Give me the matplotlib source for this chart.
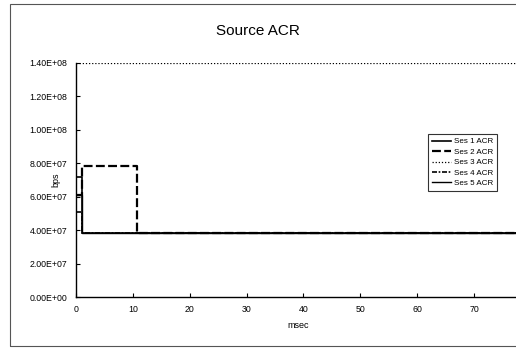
import numpy as np
import matplotlib.pyplot as plt
from matplotlib.patches import Rectangle
from matplotlib.ticker import FuncFormatter

# Data (msec, bps)
ses1_t = [0, 0.5, 1.1, 78]
ses1 = [7.2e7, 7.2e7, 3.85e7, 3.85e7]
ses2_t = [0, 1.1, 10.8, 78]
ses2 = [6.1e7, 7.85e7, 3.85e7, 3.85e7]
ses3_t = [0, 78]
ses3 = [1.4e8, 1.4e8]
ses4_t = [0, 0.5, 1.1, 78]
ses4 = [5.1e7, 5.1e7, 3.85e7, 3.85e7]
ses5_t = [0, 1.1, 78]
ses5 = [6.1e7, 3.85e7, 3.85e7]

xticks = [0, 10, 20, 30, 40, 50, 60, 70]
yticks = np.arange(0, 1.41e8, 2e7)

plt.rcParams['font.family'] = ['Liberation Sans', 'DejaVu Sans']

fig = plt.figure(figsize=(5.16, 3.5), dpi=100)
ax = fig.add_axes([0.147, 0.151, 0.86, 0.669])

ax.plot(ses1_t, ses1, color="black", lw=1.2, drawstyle="steps-post", label="Ses 1 ACR")
ax.plot(ses2_t, ses2, color="black", lw=1.6, ls=(0, (4, 1.5)), drawstyle="steps-post", label="Ses 2 ACR")
ax.plot(ses3_t, ses3, color="black", lw=0.9, ls=(0, (1, 1.5)), drawstyle="steps-post", label="Ses 3 ACR")
ax.plot(ses4_t, ses4, color="black", lw=1.2, ls=(0, (3, 1, 1, 1)), drawstyle="steps-post", label="Ses 4 ACR")
ax.plot(ses5_t, ses5, color="black", lw=1.0, drawstyle="steps-post", label="Ses 5 ACR")

ax.set_xlim(0, 78)
ax.set_ylim(0, 1.4e8)
ax.set_xticks(xticks)
ax.set_yticks(yticks)
ax.yaxis.set_major_formatter(FuncFormatter(lambda v, p: "%.2E" % v))
ax.tick_params(direction="in", length=3, width=0.8, labelsize=6.3, pad=6)
for s in ["top", "right"]:
    ax.spines[s].set_visible(False)
for s in ["left", "bottom"]:
    ax.spines[s].set_linewidth(1.0)

ax.set_xlabel("msec", fontsize=6.5, labelpad=5)
ax.set_ylabel("bps", fontsize=6.5)
ax.yaxis.set_label_coords(-0.035, 0.5)
fig.text(0.5, 0.912, "Source ACR", ha="center", va="center", fontsize=11)

leg = ax.legend(loc="upper left", bbox_to_anchor=(0.785, 0.715), fontsize=5.8,
                frameon=True, fancybox=False, handlelength=2.3, labelspacing=0.35,
                borderpad=0.5, handletextpad=0.4)
leg.get_frame().set_edgecolor("black")
leg.get_frame().set_linewidth(0.8)

# outer chart border from the scanned page
fig.patches.append(Rectangle((0.02, 0.012), 1.0, 0.976, transform=fig.transFigure,
                             fill=False, edgecolor="#555555", lw=0.8))

fig.savefig("out.png", dpi=100)
